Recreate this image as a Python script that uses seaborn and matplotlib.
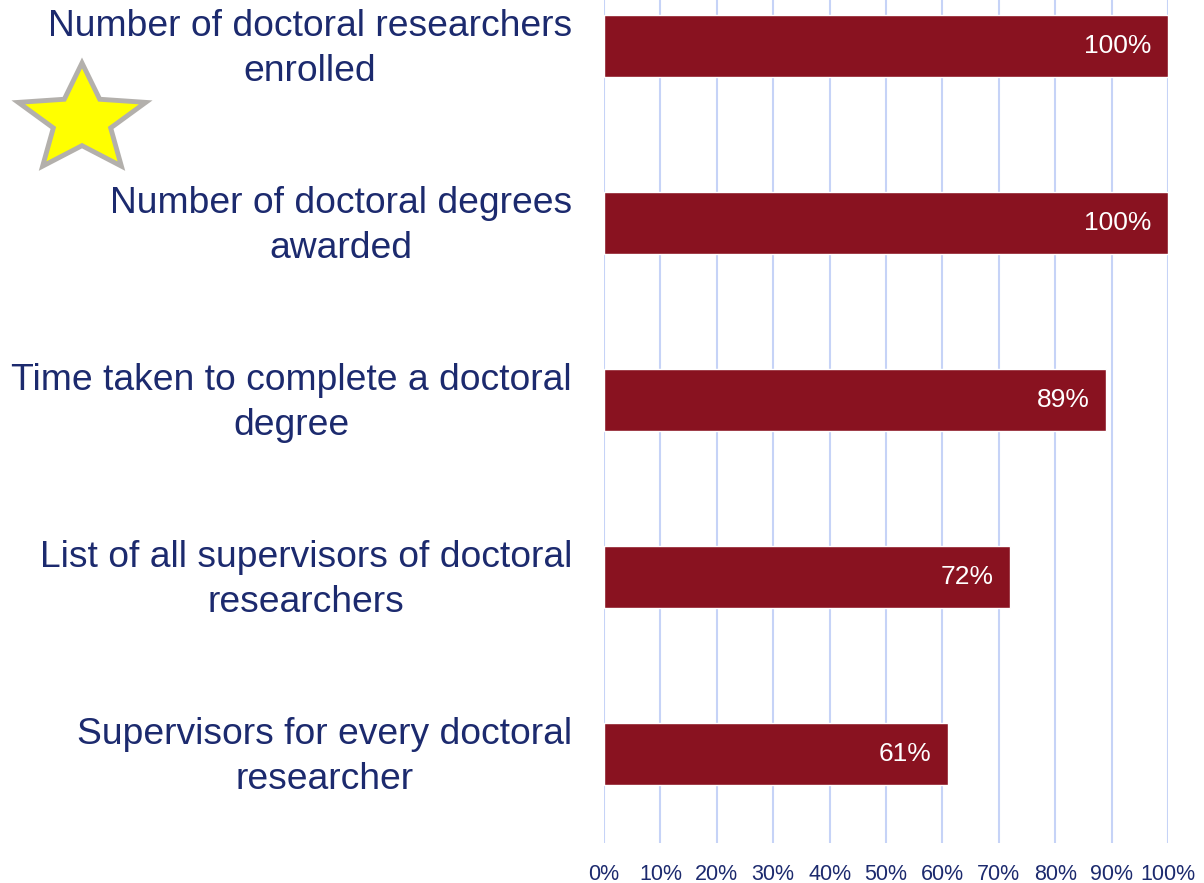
import numpy as np
import pandas as pd
import matplotlib
matplotlib.use("Agg")
import matplotlib.pyplot as plt
import matplotlib.transforms as mtransforms
import seaborn as sns
from matplotlib.patches import Polygon

categories = [
    "Number of doctoral researchers\nenrolled",
    "Number of doctoral degrees\nawarded",
    "Time taken to complete a doctoral\ndegree",
    "List of all supervisors of doctoral\nresearchers",
    "Supervisors for every doctoral\nresearcher",
]
values = [100, 100, 89, 72, 61]
x_ticks = [0, 10, 20, 30, 40, 50, 60, 70, 80, 90, 100]
x_tick_labels = [f"{t}%" for t in x_ticks]

sns.set_theme(style="white")
plt.rcParams["font.family"] = ["Liberation Sans", "DejaVu Sans"]

navy = "#1C2A6E"
bar_color = "#891220"
grid_color = "#C6D3F7"

df = pd.DataFrame({"category": categories, "value": values})

fig = plt.figure(figsize=(12.04, 8.83), dpi=100)
ax = fig.add_axes([604 / 1204, 1 - 843 / 883, (1168 - 604) / 1204, 843 / 883])

sns.barplot(data=df, x="value", y="category", orient="h", color=bar_color,
            width=0.35, saturation=1, ax=ax, zorder=3)

ax.set_xlim(0, 100)
ax.set_ylim(4.5, -0.26)
ax.set_xticks(x_ticks)
ax.set_xticklabels(x_tick_labels)
for x in x_ticks:
    ax.axvline(x, color=grid_color, lw=1.5, zorder=1)
for s in ax.spines.values():
    s.set_visible(False)
ax.set_xlabel("")
ax.set_ylabel("")
ax.tick_params(axis="x", length=0, pad=15, labelsize=15.5, labelcolor=navy)
ax.tick_params(axis="y", length=0, pad=23, labelsize=26.8, labelcolor=navy)
shift = mtransforms.ScaledTranslation(0, 6 / 100, fig.dpi_scale_trans)
for lab in ax.get_yticklabels():
    lab.set_multialignment("center")
    lab.set_linespacing(1.36)
    lab.set_transform(lab.get_transform() + shift)

for i, v in enumerate(values):
    ax.annotate(f"{v}%", xy=(v, i), xytext=(-12, 0), textcoords="offset points",
                ha="right", va="center", color="white", fontsize=19, zorder=4)

# decorative star (figure pixel coordinates)
cx, cy = 82, 883 - 120
ro_x, ro_y, ri = 67, 57, 0.45
pts = []
for k in range(10):
    ang = np.pi / 2 + k * np.pi / 5
    r = 1.0 if k % 2 == 0 else ri
    pts.append((cx + ro_x * r * np.cos(ang), cy + ro_y * r * np.sin(ang)))
star = Polygon(pts, closed=True, facecolor="#FFFF00", edgecolor="#B3B0AC",
               lw=3.5, joinstyle="miter", transform=None, zorder=10)
fig.patches.append(star)

fig.savefig("out.png", dpi=100)
